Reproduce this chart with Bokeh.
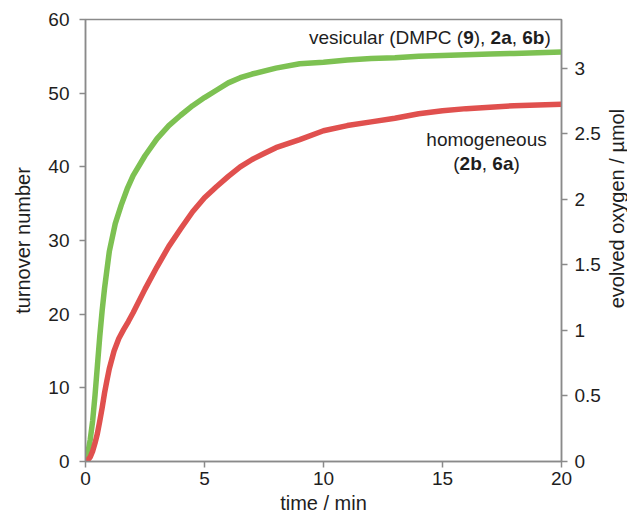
import math
from bokeh.plotting import figure
from bokeh.layouts import row
from bokeh.models import Range1d, LinearAxis, FixedTicker, CustomJSTickFormatter, ColumnDataSource
from bokeh.core.properties import value
from bokeh.embed import file_html
from bokeh.resources import INLINE

# ---- data ----
vesicular_t = [0, 0.1, 0.2, 0.3, 0.4, 0.5, 0.6, 0.7, 0.8, 0.9, 1.0, 1.25, 1.5, 1.75, 2.0,
               2.5, 3.0, 3.5, 4.0, 4.5, 5.0, 5.5, 6.0, 6.5, 7.0, 8.0, 9.0, 10, 11, 12, 13,
               14, 15, 16, 17, 18, 19, 20]
vesicular_ton = [0, 1.2, 3.0, 5.5, 9.0, 13.0, 17.0, 20.5, 23.5, 26.0, 28.5, 32.3, 34.8, 37.0, 38.8,
                 41.5, 43.8, 45.6, 47.0, 48.3, 49.4, 50.4, 51.4, 52.1, 52.6, 53.4, 54.0, 54.2, 54.5,
                 54.7, 54.8, 55.0, 55.1, 55.2, 55.3, 55.4, 55.5, 55.6]
homog_t = [0, 0.1, 0.2, 0.3, 0.4, 0.5, 0.6, 0.7, 0.8, 0.9, 1.0, 1.2, 1.4, 1.6, 1.8, 2.0,
           2.5, 3.0, 3.5, 4.0, 4.5, 5.0, 5.5, 6.0, 6.5, 7.0, 7.5, 8.0, 9.0, 10, 11, 12, 13,
           14, 15, 16, 17, 18, 19, 20]
homog_ton = [0, 0.2, 0.6, 1.4, 2.5, 3.8, 5.5, 7.3, 9.3, 11.0, 12.6, 15.0, 16.7, 17.9, 19.0, 20.2,
             23.4, 26.4, 29.2, 31.6, 33.9, 35.8, 37.3, 38.7, 40.0, 41.0, 41.8, 42.6, 43.7, 44.9,
             45.6, 46.1, 46.6, 47.2, 47.6, 47.9, 48.1, 48.3, 48.4, 48.5]
x_ticks = [0, 5, 10, 15, 20]
left_ticks = [0, 10, 20, 30, 40, 50, 60]
right_ticks = [0, 0.5, 1, 1.5, 2, 2.5, 3]
right_max = 3.37
right_label = "evolved oxygen / \u00b5mol"

GREEN = "#7dc152"
RED = "#e0504e"
AXIS = "#8a8a8a"
TXT = "#1e1e1e"
FONT = "Liberation Sans"
FS = 19
LFS = 20

p = figure(width=605, height=519, output_backend="svg", toolbar_location=None,
           x_range=Range1d(0, 20), y_range=Range1d(0, 60),
           min_border_left=85, min_border_right=44, min_border_top=19, min_border_bottom=58)
p.extra_y_ranges = {"o2": Range1d(0, right_max)}
p.grid.visible = False
p.outline_line_color = AXIS
p.outline_line_width = 1.5
p.background_fill_color = "white"
p.border_fill_color = "white"

def style(ax, ticks):
    ax.ticker = FixedTicker(ticks=ticks)
    ax.axis_line_color = AXIS
    ax.axis_line_width = 1.5
    ax.major_tick_line_color = AXIS
    ax.major_tick_line_width = 1.5
    ax.major_tick_out = 6
    ax.major_tick_in = 0
    ax.minor_tick_line_color = None
    ax.major_label_text_font = FONT
    ax.major_label_text_font_size = f"{FS}px"
    ax.major_label_text_color = TXT
    ax.axis_label_text_font = FONT
    ax.axis_label_text_font_size = f"{LFS}px"
    ax.axis_label_text_font_style = "normal"
    ax.axis_label_text_color = TXT

style(p.xaxis[0], x_ticks)
p.xaxis[0].axis_label = "time / min"
p.xaxis[0].major_label_standoff = 4
p.xaxis[0].axis_label_standoff = 4
style(p.yaxis[0], left_ticks)
p.yaxis[0].axis_label = "turnover number"
p.yaxis[0].major_label_standoff = 10
p.yaxis[0].axis_label_standoff = 11

rax = LinearAxis(y_range_name="o2")
style(rax, right_ticks)
rax.formatter = CustomJSTickFormatter(code="return tick.toString()")
rax.major_label_standoff = 7
p.add_layout(rax, "right")

p.line(vesicular_t, vesicular_ton, line_color=GREEN, line_width=5.5, line_join="round")
p.line(homog_t, homog_ton, line_color=RED, line_width=5.5, line_join="round")

# ---- mixed regular / bold annotations ----
REG = {'v': 500, 'e': 556, 's': 500, 'i': 222, 'c': 500, 'u': 556, 'l': 222, 'a': 556, 'r': 333,
       ' ': 278, '(': 333, ')': 333, 'D': 722, 'M': 833, 'P': 667, 'C': 722, ',': 278, 'h': 556,
       'o': 556, 'm': 833, 'g': 556, 'n': 556}
BLD = {'a': 556, 'b': 611, '2': 556, '6': 556, '9': 556}

def width(s, bold):
    tab = BLD if bold else REG
    return sum(tab.get(ch, 556) for ch in s) * FS / 1000.0

def mixed(segments, x, y, align):
    total = sum(width(s, b) for s, b in segments)
    start = -total if align == "right" else -total / 2
    xs, ys, texts, offs, styles = [], [], [], [], []
    cur = start
    for s, b in segments:
        xs.append(x); ys.append(y); texts.append(s); offs.append(cur)
        styles.append("bold" if b else "normal")
        cur += width(s, b)
    src = ColumnDataSource(dict(x=xs, y=ys, text=texts, xo=offs, st=styles))
    p.text(x="x", y="y", text="text", x_offset="xo", text_font_style="st", source=src,
           text_font=value(FONT), text_font_size=f"{FS}px", text_color=TXT,
           text_align="left", text_baseline="middle")

mixed([("vesicular (DMPC (", False), ("9", True), ("), ", False), ("2a", True), (", ", False),
       ("6b", True), (")", False)], 19.55, 57.5, "right")
mixed([("homogeneous", False)], 16.85, 43.7, "center")
mixed([("(", False), ("2b", True), (", ", False), ("6a", True), (")", False)], 16.85, 40.4, "center")

# ---- narrow strip carrying the right-hand axis title (reads bottom-to-top) ----
q = figure(width=22, height=519, output_backend="svg", toolbar_location=None,
           x_range=Range1d(0, 22), y_range=Range1d(0, 519),
           min_border=0, min_border_left=0, min_border_right=0,
           min_border_top=0, min_border_bottom=0)
q.axis.visible = False
q.grid.visible = False
q.outline_line_color = None
q.text(x=[11], y=[297], text=[right_label], angle=math.pi / 2,
       text_font=value(FONT), text_font_size=f"{LFS}px", text_color=TXT,
       text_align="center", text_baseline="middle")

layout = row(p, q, spacing=0)
open("out.html", "w").write(file_html(layout, INLINE))
